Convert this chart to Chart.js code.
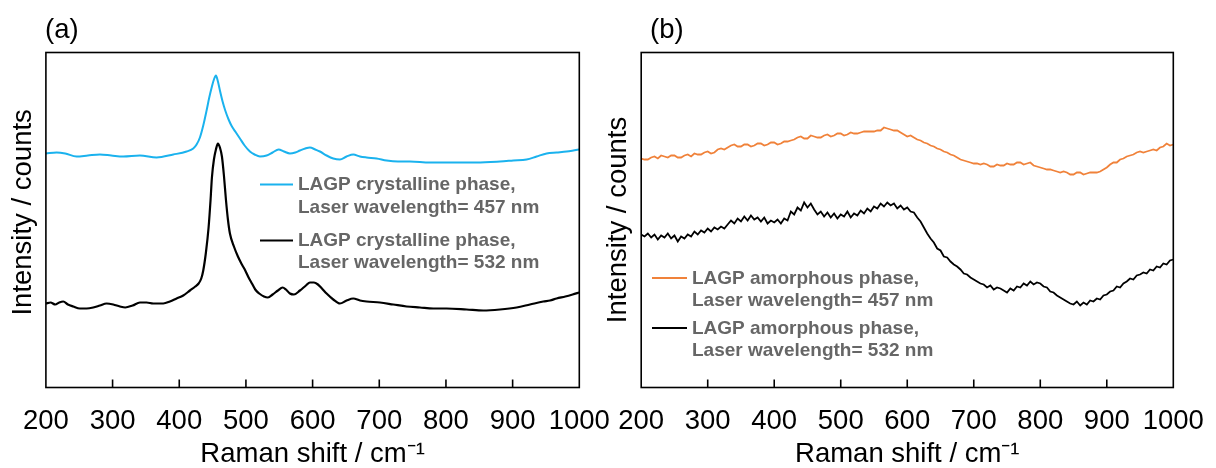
<!DOCTYPE html>
<html><head><meta charset="utf-8">
<script src="https://cdn.jsdelivr.net/npm/chart.js@4.4.0/dist/chart.umd.min.js"></script>
<style>
html,body{margin:0;padding:0;background:#fff;width:1216px;height:468px;overflow:hidden;}
#ca{position:absolute;left:0;top:0;}
#cb{position:absolute;left:600px;top:0;}
</style></head><body>
<canvas id="ca" width="615" height="468"></canvas>
<canvas id="cb" width="616" height="468"></canvas>
<script>
// ---------- tick labels / texts ----------
const xTicks = [200, 300, 400, 500, 600, 700, 800, 900, 1000];
const panelLabels = ['(a)', '(b)'];
const xTitle = 'Raman shift / cm\u207B\u00B9';
const yTitle = 'Intensity / counts';

// ---------- panel (a): crystalline ----------
const aLegend457 = ['LAGP crystalline phase,', 'Laser wavelength= 457 nm'];
const aLegend532 = ['LAGP crystalline phase,', 'Laser wavelength= 532 nm'];
const a457Shift = [200,216,229,246,263,281,298,316,341,366,391,411,421,426,431,436,441,445,449,452,455,458,461,465,469,474,479,485,491,498,506,513,521,531,540,549,557,566,574,581,589,596,604,611,621,631,641,651,661,671,681,696,711,728,746,776,806,846,881,901,921,936,951,966,981,991,1000];
const a457Int = [234,235,234,231,232,233,232,231,232,230,233,236,239,243,250,262,277,290,301,308,312,306,297,286,277,268,261,255,249,242,236,233,231,232,235,238,236,234,235,237,239,240,238,236,232,229,228,231,233,231,230,229,227,226,226,225,225,225,226,227,228,231,234,235,236,237,238];
const a532Shift = [200,207,214,220,226,233,241,251,261,271,281,291,301,311,319,330,341,351,361,376,386,396,406,416,424,429,433,436,440,444,447,449,452,455,458,461,464,467,470,473,476,482,488,494,499,504,509,514,520,527,533,540,548,555,560,566,572,581,590,596,602,608,614,621,631,641,651,661,671,681,701,721,741,761,781,801,831,856,881,906,926,946,956,966,979,990,1000];
const a532Int = [84,85,83,85,86,83,81,79,79,80,82,84,83,81,80,82,85,85,84,84,86,89,92,97,101,104,109,117,135,160,188,210,228,238,244,240,231,212,188,168,154,141,131,123,117,110,104,98,94,91,90,93,97,100,98,94,93,97,102,105,105,103,99,94,88,84,87,89,87,86,85,83,81,80,79,79,78,77,78,80,83,86,87,89,91,93,95];

// ---------- panel (b): amorphous ----------
const bLegend457 = ['LAGP amorphous phase,', 'Laser wavelength= 457 nm'];
const bLegend532 = ['LAGP amorphous phase,', 'Laser wavelength= 532 nm'];
const bShift = Array.from({length: 161}, (_, i) => 200 + 5 * i);
const b457Int = [229,228,228,230,231,229,232,231,230,232,232,230,230,232,233,231,234,233,233,235,236,234,235,238,239,238,240,242,243,241,241,243,243,241,242,244,244,242,243,245,245,243,244,246,246,247,248,250,251,249,249,252,251,250,250,252,253,251,252,254,254,252,253,255,254,254,255,256,256,256,256,257,257,260,259,258,257,257,255,253,251,252,250,248,247,245,244,242,241,239,238,236,235,233,232,230,228,227,226,225,224,224,223,224,223,221,221,223,222,222,224,223,223,225,225,223,224,225,222,221,220,219,218,218,217,216,215,216,215,213,213,215,215,213,214,215,215,215,216,218,220,223,225,225,228,229,231,232,233,235,236,235,236,237,238,237,240,241,244,242,243];
const b532Int = [153,151,154,150,153,148,152,150,154,149,152,146,151,149,153,151,156,153,157,155,159,156,160,158,161,159,163,167,164,169,166,171,167,172,168,170,166,170,164,167,165,168,164,169,167,176,173,180,177,185,180,184,178,173,176,171,175,170,174,169,173,171,176,170,174,172,177,174,179,176,181,179,184,181,185,182,184,179,182,178,180,176,175,170,166,160,154,149,145,139,137,131,130,126,123,121,118,114,113,110,108,106,104,103,100,102,98,100,99,97,95,99,97,101,100,104,102,106,103,105,104,101,100,96,95,92,90,88,86,84,83,86,82,85,83,87,86,89,88,92,93,96,97,101,100,104,106,109,108,112,113,115,114,118,117,121,120,124,123,127,128];

const FONT = '"Liberation Sans", Arial, sans-serif';
const toPts = (xs, ys) => xs.map((v, i) => ({x: v, y: ys[i]}));

function panelPlugin(cfg) {
  return {
    id: 'panelDeco',
    afterDraw(chart) {
      const {ctx, chartArea: a} = chart;
      const xs = chart.scales.x;
      ctx.save();
      ctx.strokeStyle = '#000';
      ctx.lineWidth = 1.6;
      xTicks.slice(1, -1).forEach(v => {
        const px = xs.getPixelForValue(v);
        ctx.beginPath(); ctx.moveTo(px, a.bottom); ctx.lineTo(px, a.bottom - 8); ctx.stroke();
      });
      ctx.lineWidth = 1.6;
      ctx.strokeRect(a.left, a.top, a.right - a.left, a.bottom - a.top);
      ctx.fillStyle = '#000';
      ctx.font = '27.5px ' + FONT;
      ctx.textBaseline = 'middle';
      ctx.textAlign = 'left';
      ctx.fillText(cfg.label, cfg.labelX, 30.5);
      cfg.legend.forEach(e => {
        ctx.strokeStyle = e.color; ctx.lineWidth = 2;
        ctx.beginPath(); ctx.moveTo(cfg.lx, e.ly); ctx.lineTo(cfg.lx + cfg.len, e.ly); ctx.stroke();
        ctx.fillStyle = '#666';
        ctx.font = 'bold 19px ' + FONT;
        e.text.forEach((t, k) => ctx.fillText(t, cfg.tx, e.ty + k * 22.5));
      });
      ctx.restore();
    }
  };
}

function makeChart(id, datasets, geom, deco) {
  return new Chart(document.getElementById(id), {
    type: 'line',
    data: {datasets},
    options: {
      responsive: false, animation: false,
      layout: {padding: {left: 0, top: geom.top, right: geom.right, bottom: 0}},
      plugins: {legend: {display: false}, tooltip: {enabled: false}},
      elements: {point: {radius: 0}},
      scales: {
        x: {
          type: 'linear', min: 200, max: 1000,
          afterBuildTicks: s => { s.ticks = xTicks.map(v => ({value: v})); },
          afterFit: s => { s.height = 80.5; s.paddingLeft = 0; s.paddingRight = 0; },
          grid: {display: false, drawTicks: false},
          border: {display: false},
          ticks: {autoSkip: false, maxRotation: 0, padding: 17, color: '#000',
                  font: {family: FONT, size: 27.5}, callback: v => String(v)},
          title: {display: true, text: xTitle, color: '#000',
                  font: {family: FONT, size: 27.5, lineHeight: 1}, padding: {top: 0, bottom: 0}}
        },
        y: {
          min: 0, max: 335,
          afterFit: s => { s.width = geom.left; s.paddingTop = 0; s.paddingBottom = 0; },
          grid: {display: false, drawTicks: false},
          border: {display: false},
          ticks: {display: false},
          title: {display: true, text: geom.yText, color: '#000',
                  font: {family: FONT, size: 27.5, lineHeight: 1}, padding: {top: geom.yPad, bottom: 0}}
        }
      }
    },
    plugins: [panelPlugin(deco)]
  });
}

makeChart('ca', [
  {data: toPts(a457Shift, a457Int), borderColor: '#1AB2EE', borderWidth: 2, cubicInterpolationMode: 'monotone'},
  {data: toPts(a532Shift, a532Int), borderColor: '#000', borderWidth: 2.2, cubicInterpolationMode: 'monotone'}
], {top: 52.5, right: 615 - 579.3, left: 45.9, yPad: 9.5, yText: '  ' + yTitle},
{label: panelLabels[0], labelX: 45, lx: 260, len: 33, tx: 298,
 legend: [{color: '#1AB2EE', ly: 184.5, ty: 185, text: aLegend457},
          {color: '#000', ly: 240.5, ty: 240.5, text: aLegend532}]});

makeChart('cb', [
  {data: toPts(bShift, b457Int), borderColor: '#F0823A', borderWidth: 1.8, tension: 0},
  {data: toPts(bShift, b532Int), borderColor: '#000', borderWidth: 1.8, tension: 0}
], {top: 52.5, right: 616 - 573.3, left: 41.2, yPad: 5, yText: yTitle},
{label: panelLabels[1], labelX: 50, lx: 52, len: 35, tx: 92,
 legend: [{color: '#F0823A', ly: 278, ty: 278.5, text: bLegend457},
          {color: '#000', ly: 328, ty: 328.5, text: bLegend532}]});
</script>
</body></html>
